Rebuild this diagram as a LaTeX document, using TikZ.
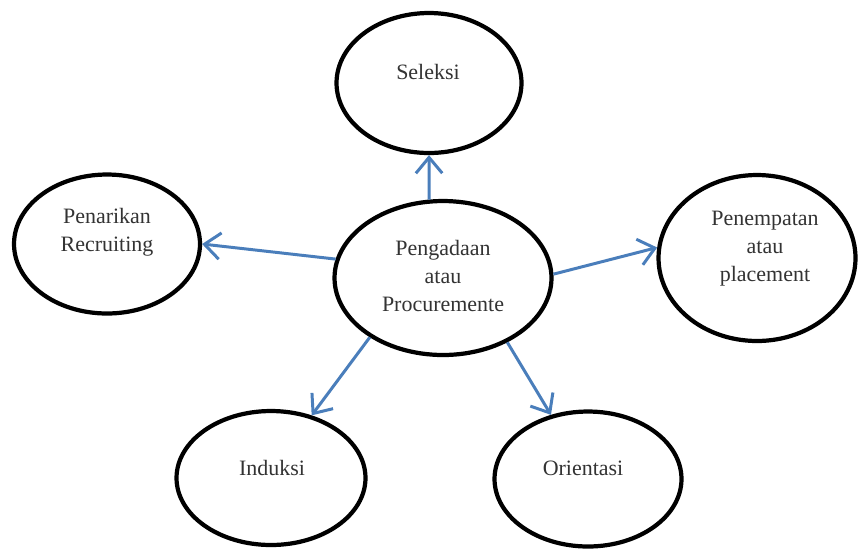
\documentclass[tikz,border=0pt]{standalone}
\usepackage{fontspec}
\setmainfont{Liberation Serif}
\usetikzlibrary{shapes.geometric,arrows.meta}
\definecolor{arrowblue}{RGB}{74,126,187}

\begin{document}
\begin{tikzpicture}[x=0.02cm,y=-0.02cm,
        bubble/.style={ellipse,draw=black,line width=2.4pt,inner sep=0pt},
        txt/.style={align=center,font=\fontsize{12.5}{16}\selectfont,text=black!80},
        link/.style={draw=arrowblue,line width=1.7pt,-{Straight Barb[length=9pt,width=15pt]}}]
        \useasboundingbox (0,0) rectangle (861,549);
        \foreach \n/\x/\y/\w/\h in {sel/429/83/3.70/2.80,pen/107/244/3.72/2.78,
                peng/443/278/4.34/3.08,pent/757/258/3.94/3.32,
                ind/271/478/3.78/2.68,ori/588/479/3.74/2.70} {
            \node[bubble,minimum width=\w cm,minimum height=\h cm] (\n) at (\x,\y) {};
        }
        \node[txt] (selL) at (428,72) {Seleksi};
        \node[txt] (penL) at (107,232) {Penarikan\\Recruiting};
        \node[txt] (pengL) at (443,276) {Pengadaan\\atau\\Procuremente};
        \node[txt] (pentL) at (765,249) {Penempatan\\atau\\placement};
        \node[txt] (indL) at (272,468) {Induksi};
        \node[txt] (oriL) at (583,468) {Orientasi};
        \draw[link] (peng.100) -- (sel.south);
        \draw[link] (peng.170) -- (pen.east);
        \draw[link] (peng.2) -- (pent.174);
        \draw[link] (peng.219) -- (ind.57);
        \draw[link] (peng.315) -- (ori.120);
\end{tikzpicture}
\end{document}
